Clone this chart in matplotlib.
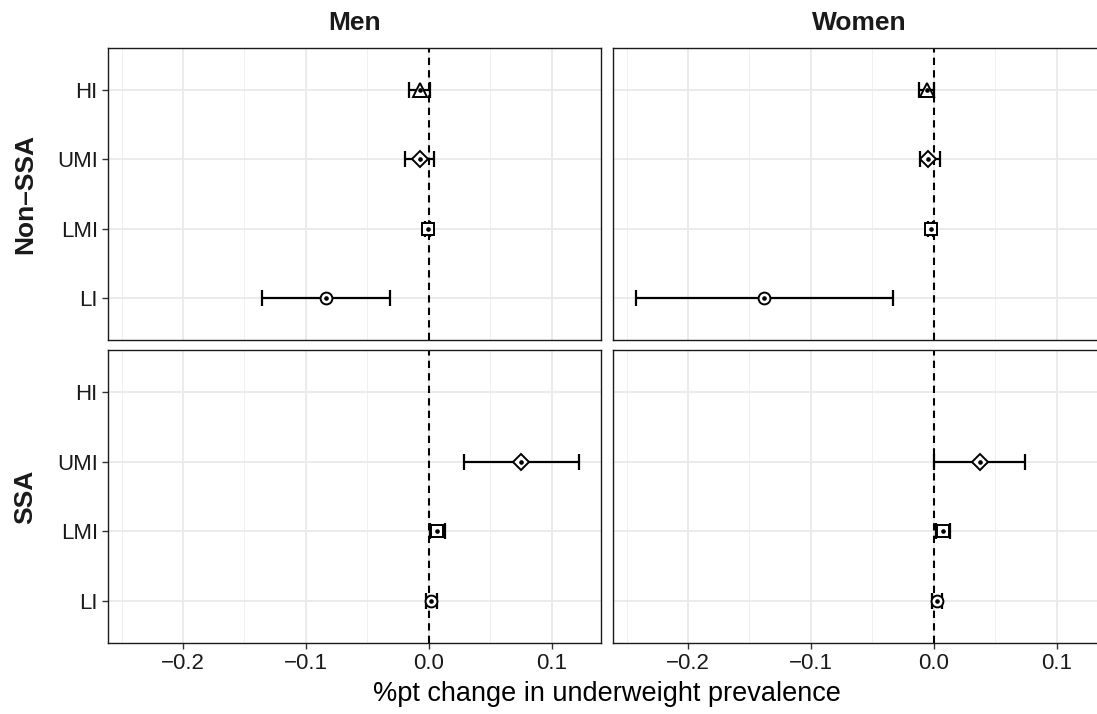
import numpy as np
import matplotlib
matplotlib.use("Agg")
import matplotlib.pyplot as plt

plt.rcParams['font.family'] = ['Liberation Sans', 'DejaVu Sans']

# categories and panels
levels = ['LI', 'LMI', 'UMI', 'HI']
sexes = ['Men', 'Women']
regions = ['Non-SSA', 'SSA']

# point estimates, lower and upper bounds (None = no estimate)
men_nonssa_est = [-0.084, -0.001, -0.007, -0.007]
men_nonssa_lo = [-0.136, -0.003, -0.0195, -0.016]
men_nonssa_hi = [-0.032, 0.001, 0.004, 0.001]

women_nonssa_est = [-0.138, -0.0025, -0.005, -0.0055]
women_nonssa_lo = [-0.2425, -0.0045, -0.011, -0.012]
women_nonssa_hi = [-0.0333, -0.0005, 0.0047, 0.0]

men_ssa_est = [0.002, 0.0068, 0.0753, None]
men_ssa_lo = [-0.0024, 0.001, 0.0287, None]
men_ssa_hi = [0.0068, 0.013, 0.1217, None]

women_ssa_est = [0.0022, 0.0076, 0.0374, None]
women_ssa_lo = [-0.0016, 0.002, 0.0003, None]
women_ssa_hi = [0.0063, 0.013, 0.0740, None]

markers = ['o', 's', 'D', '^']
msizes = [8.5, 8, 8, 9.5]

panels = {
    ('Non-SSA', 'Men'): (men_nonssa_est, men_nonssa_lo, men_nonssa_hi),
    ('Non-SSA', 'Women'): (women_nonssa_est, women_nonssa_lo, women_nonssa_hi),
    ('SSA', 'Men'): (men_ssa_est, men_ssa_lo, men_ssa_hi),
    ('SSA', 'Women'): (women_ssa_est, women_ssa_lo, women_ssa_hi),
}

W, H = 1097, 714
fig = plt.figure(figsize=(W / 100, H / 100), dpi=100)

# panel boxes in pixels: left, right / top, bottom
cols_px = [(108, 601), (613, 1106)]
rows_px = [(48, 340), (350, 643)]

for r, region in enumerate(regions):
    for c, sex in enumerate(sexes):
        x0, x1 = cols_px[c]
        y0, y1 = rows_px[r]
        ax = fig.add_axes([x0 / W, 1 - y1 / H, (x1 - x0) / W, (y1 - y0) / H])
        est, lo, hi = panels[(region, sex)]

        ax.set_xlim(-0.261, 0.140)
        ax.set_ylim(0.4, 4.6)
        ax.set_xticks([-0.2, -0.1, 0.0, 0.1])
        ax.set_xticks([-0.25, -0.15, -0.05, 0.05], minor=True)
        ax.set_yticks([1, 2, 3, 4])
        ax.grid(True, which='major', color='#ebebeb', lw=1.4, zorder=0)
        ax.grid(True, which='minor', axis='x', color='#f0f0f0', lw=0.7, zorder=0)
        ax.set_axisbelow(True)

        ax.axvline(0, color='black', ls=(0, (3.5, 2.5)), lw=1.5, zorder=2)

        for i, lev in enumerate(levels):
            if est[i] is None:
                continue
            y = i + 1
            ax.errorbar(est[i], y, xerr=[[est[i] - lo[i]], [hi[i] - est[i]]],
                        fmt='none', ecolor='black', elinewidth=1.6,
                        capsize=6, capthick=1.6, zorder=3)
            ax.plot(est[i], y, marker=markers[i], ms=msizes[i], mfc='white',
                    mec='black', mew=1.4, ls='none', zorder=4)
            ax.plot(est[i], y, marker='o', ms=2.3, color='black', ls='none', zorder=5)

        for s in ax.spines.values():
            s.set_color('#1a1a1a')
            s.set_linewidth(1.0)
        ax.tick_params(axis='both', colors='#333333', labelcolor='#1a1a1a',
                       labelsize=16, length=4.3, width=1.0, pad=3)
        ax.tick_params(which='minor', length=0)

        if c == 0:
            ax.set_yticklabels(levels)
        else:
            ax.set_yticklabels([])
            ax.tick_params(axis='y', length=0)
        if r == 1:
            ax.set_xticklabels(['\u22120.2', '\u22120.1', '0.0', '0.1'])
        else:
            ax.set_xticklabels([])
            ax.tick_params(axis='x', length=0)

        if r == 0:
            fig.text((x0 + x1) / 2 / W, 1 - 23 / H, sex, ha='center', va='center',
                     fontsize=19, fontweight='bold', color='#1a1a1a')
        if c == 0:
            fig.text(25 / W, 1 - (y0 + y1) / 2 / H, region.replace('-', '\u2013'),
                     rotation=90, ha='center', va='center', fontsize=19,
                     fontweight='bold', color='#1a1a1a')

fig.text(607 / W, 1 - 694 / H, '%pt change in underweight prevalence',
         ha='center', va='center', fontsize=19.5)

fig.savefig('out.png', dpi=100)
